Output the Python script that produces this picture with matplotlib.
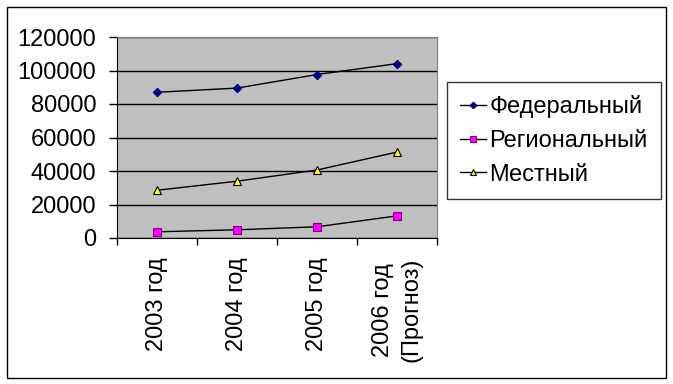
import matplotlib
matplotlib.use("Agg")
import matplotlib.pyplot as plt
from matplotlib.patches import Rectangle

plt.rcParams['font.family'] = ['Liberation Sans', 'DejaVu Sans']

categories = ["2003 год", "2004 год", "2005 год", "2006 год\n(Прогноз)"]
federal = [87000, 89500, 97600, 104100]
regional = [3700, 4900, 6700, 13200]
local = [28500, 33900, 40600, 51300]
yticks = [0, 20000, 40000, 60000, 80000, 100000, 120000]

W, H = 673, 384
FS = 17
fig = plt.figure(figsize=(W/100, H/100), dpi=100)
fig.patch.set_facecolor('white')
fig.add_artist(Rectangle((6.5/W, 1-377.5/H), (666-6.5)/W, (377.5-6.5)/H, transform=fig.transFigure,
                         fill=False, edgecolor='black', linewidth=1))

ax = fig.add_axes([117/W, 1-238/H, (437-117)/W, (238-37)/H])
ax.set_facecolor('#C0C0C0')
x = list(range(len(categories)))
ax.plot(x, federal, color='black', lw=1, marker='D', markersize=4.5,
        markerfacecolor='#000080', markeredgecolor='#000080', label='Федеральный')
ax.plot(x, regional, color='black', lw=1, marker='s', markersize=5.5,
        markerfacecolor='#FF00FF', markeredgecolor='#800080', markeredgewidth=0.8, label='Региональный')
ax.plot(x, local, color='black', lw=1, marker='^', markersize=6,
        markerfacecolor='#FFFF00', markeredgecolor='black', markeredgewidth=0.8, label='Местный')

ax.set_xlim(-0.5, 3.5)
ax.set_ylim(0, 120000)
ax.set_yticks(yticks)
ax.set_yticklabels([str(v) for v in yticks], fontsize=FS)
ax.yaxis.grid(True, color='black', lw=1)
ax.set_axisbelow(True)
ax.set_xticks([i - 0.5 for i in range(len(categories) + 1)])
ax.set_xticklabels([])
ax.set_xticks(x, minor=True)
ax.set_xticklabels(categories, minor=True, rotation=90, fontsize=FS, va='top', ha='center',
                   linespacing=1.4)
ax.tick_params(axis='x', which='minor', length=0, pad=14)
ax.tick_params(axis='x', which='major', length=5, direction='out', width=1)
ax.tick_params(axis='y', length=6, direction='out', width=1, pad=9)
for s in ['top', 'right']:
    ax.spines[s].set_color('#808080')
for s in ['left', 'bottom']:
    ax.spines[s].set_color('black')

leg = fig.legend(loc='upper left', bbox_to_anchor=(447/W, 1-82/H), fontsize=FS,
                 frameon=True, fancybox=False, edgecolor='black', handlelength=1.1,
                 borderpad=0.55, labelspacing=0.5, handletextpad=0.15, markerscale=0.7,
                 borderaxespad=0)
leg.get_frame().set_linewidth(1)

fig.savefig('out.png', dpi=100)
